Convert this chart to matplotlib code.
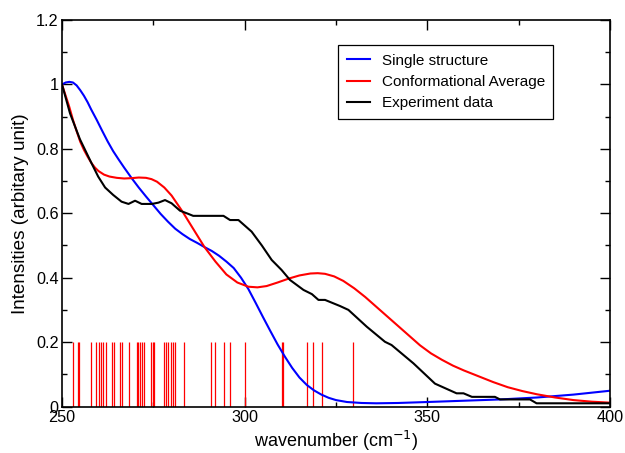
import matplotlib
matplotlib.use("Agg")
import matplotlib.pyplot as plt
from matplotlib.ticker import MultipleLocator, FuncFormatter

plt.rcParams['font.family'] = ['Liberation Sans', 'DejaVu Sans']

# Single-structure spectrum
single_x = [250, 251, 252, 253, 254, 255, 256, 257, 258, 259.5, 261, 262.5, 264,
            265.5, 267, 269, 271, 273, 275, 277, 279, 281, 283, 285, 287, 289,
            291, 293, 295, 297, 299, 301, 303, 305, 307, 309, 311, 313, 315, 317,
            319, 321, 323, 325, 328, 332, 336, 342, 350, 360, 370, 380, 390, 400]
single_y = [1.0, 1.006, 1.008, 1.006, 0.997, 0.982, 0.965, 0.945, 0.922, 0.89,
            0.856, 0.823, 0.793, 0.767, 0.742, 0.71, 0.68, 0.652, 0.625, 0.598,
            0.574, 0.552, 0.535, 0.52, 0.508, 0.495, 0.483, 0.468, 0.45, 0.43,
            0.40, 0.365, 0.322, 0.278, 0.235, 0.193, 0.155, 0.12, 0.09, 0.067,
            0.05, 0.037, 0.027, 0.02, 0.014, 0.011, 0.01, 0.011, 0.014, 0.018,
            0.022, 0.028, 0.037, 0.049]

# Conformationally averaged spectrum
avg_x = [250, 251, 252, 253, 254, 255, 256, 257, 258, 259, 260, 261.5, 263, 265,
         267, 269, 271, 273, 274.5, 276, 278, 280, 283, 286, 289, 292, 295, 298,
         301, 303.5, 306, 309, 312, 315, 318, 320, 322, 324.5, 327, 330, 333,
         336, 339, 342, 345, 348, 351, 354, 357, 360, 364, 368, 372, 376, 380,
         385, 390, 395, 400]
avg_y = [1.0, 0.965, 0.93, 0.89, 0.855, 0.822, 0.797, 0.776, 0.757, 0.742, 0.731,
         0.72, 0.714, 0.71, 0.708, 0.709, 0.711, 0.71, 0.706, 0.698, 0.68, 0.655,
         0.605, 0.55, 0.495, 0.45, 0.41, 0.385, 0.372, 0.37, 0.374, 0.385, 0.397,
         0.407, 0.413, 0.414, 0.412, 0.404, 0.39, 0.367, 0.34, 0.31, 0.28, 0.25,
         0.22, 0.19, 0.165, 0.145, 0.127, 0.112, 0.094, 0.076, 0.06, 0.048,
         0.038, 0.028, 0.02, 0.015, 0.012]

# Measured spectrum
exp_x = [250.0, 252.2, 254.9, 258.1, 259.9, 261.8, 264.0, 266.3, 268.2, 270.0,
         271.8, 274.6, 276.4, 278.2, 280.0, 282.3, 284.6, 285.9, 294.2, 296.0,
         298.3, 301.9, 304.7, 307.4, 310.1, 312.4, 316.1, 318.4, 320.2, 322.0,
         326.1, 328.4, 333.4, 338.4, 340.2, 346.2, 352.1, 358.0, 359.9, 362.2,
         368.5, 369.9, 378.1, 379.9, 400.0]
exp_y = [1.0, 0.91, 0.83, 0.755, 0.714, 0.68, 0.657, 0.636, 0.629, 0.639,
         0.629, 0.629, 0.633, 0.641, 0.631, 0.608, 0.598, 0.592, 0.592, 0.579,
         0.579, 0.543, 0.50, 0.455, 0.424, 0.393, 0.362, 0.349, 0.331, 0.331,
         0.312, 0.30, 0.248, 0.201, 0.191, 0.134, 0.071, 0.041, 0.041, 0.03,
         0.03, 0.022, 0.022, 0.01, 0.01]

# Individual conformer frequencies (stick spectrum)
stick_freqs = [253.1, 254.3, 254.7, 257.9, 259.2, 260.1, 260.6, 261.1, 262.0,
               263.6, 264.3, 265.9, 266.5, 268.3, 270.4, 270.9, 271.4, 271.8,
               272.4, 274.3, 275.0, 275.3, 277.9, 278.5, 279.1, 279.8, 280.3,
               280.9, 283.4, 290.8, 291.8, 294.4, 296.0, 300.1, 310.1, 310.6,
               317.1, 318.6, 321.1, 329.7]
stick_height = 0.2

fig = plt.figure(figsize=(6.25, 4.53), dpi=100)
ax = fig.add_axes([0.0992, 0.1026, 0.8768, 0.8532])

ax.vlines(stick_freqs, 0, stick_height, colors='#ff0000', linewidth=0.9)
ax.plot(single_x, single_y, color='#0000ff', linewidth=1.5, label='Single structure')
ax.plot(avg_x, avg_y, color='#ff0000', linewidth=1.5, label='Conformational Average')
ax.plot(exp_x, exp_y, color='#000000', linewidth=1.5, label='Experiment data')

ax.set_xlim(250, 400)
ax.set_ylim(0, 1.2)
ax.xaxis.set_major_locator(MultipleLocator(50))
ax.xaxis.set_minor_locator(MultipleLocator(25))
ax.yaxis.set_major_locator(MultipleLocator(0.2))
ax.yaxis.set_minor_locator(MultipleLocator(0.1))
ax.yaxis.set_major_formatter(FuncFormatter(lambda v, p: f"{v:g}"))
ax.tick_params(which='both', direction='in', top=True, right=True, labelsize=11.7,
               width=1.0, pad=2.5)
ax.tick_params(which='major', length=7)
ax.tick_params(which='minor', length=3.5)
for s in ax.spines.values():
    s.set_linewidth(1.2)

ax.set_xlabel('wavenumber (cm$^{-1}$)', fontsize=13, labelpad=3)
ax.set_ylabel('Intensities (arbitary unit)', fontsize=13.6, labelpad=5)

leg = ax.legend(loc='upper left', bbox_to_anchor=(0.504, 0.935), fontsize=11,
                frameon=True, fancybox=False, edgecolor='black', framealpha=1,
                handlelength=1.5, handletextpad=0.8, labelspacing=0.48,
                borderpad=0.55, borderaxespad=0)
leg.get_frame().set_linewidth(0.9)

fig.savefig('out.png', dpi=100)
